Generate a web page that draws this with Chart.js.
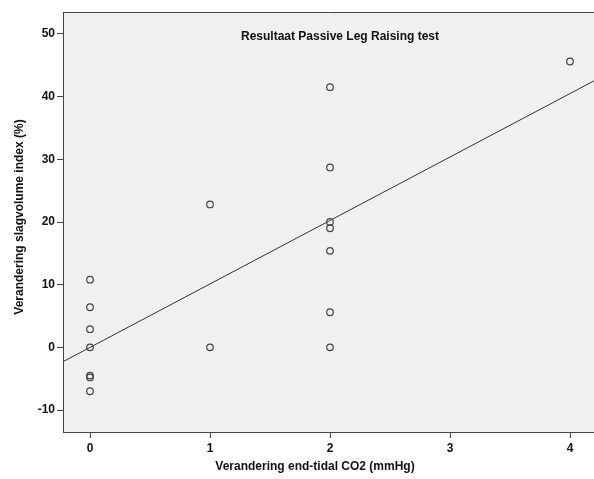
<!DOCTYPE html>
<html>
<head>
<meta charset="utf-8">
<script src="https://cdn.jsdelivr.net/npm/chart.js@4"></script>
<style>
  html, body { margin: 0; padding: 0; background: #fff; }
  #wrap { width: 594px; height: 479px; }
</style>
</head>
<body>
<div id="wrap"><canvas id="grafico" width="594" height="479"></canvas></div>
<script>
// Datos
const cambioCO2 = [0, 0, 0, 0, 0, 0, 0, 1, 1, 2, 2, 2, 2, 2, 2, 2, 4];
const cambioSVI = [10.8, 6.4, 2.9, 0, -4.5, -4.8, -7.0, 22.8, 0, 41.5, 28.7, 20.0, 19.0, 15.4, 5.6, 0, 45.6];
const ticksX = [0, 1, 2, 3, 4];
const ticksY = [-10, 0, 10, 20, 30, 40, 50];
const titulo = 'Resultaat Passive Leg Raising test';
const tituloX = 'Verandering end-tidal CO2 (mmHg)';
const tituloY = 'Verandering slagvolume index (%)';

const xMin = -0.225, xMax = 4.2;
const yMin = -13.5, yMax = 53.5;

// Recta de regresión (mínimos cuadrados)
const n = cambioCO2.length;
const mx = cambioCO2.reduce((a, b) => a + b, 0) / n;
const my = cambioSVI.reduce((a, b) => a + b, 0) / n;
let sxy = 0, sxx = 0;
cambioCO2.forEach((x, i) => {
    sxy += (x - mx) * (cambioSVI[i] - my);
    sxx += (x - mx) * (x - mx);
});
const pendiente = sxy / sxx;
const intercepto = my - pendiente * mx;

const puntos = cambioCO2.map((x, i) => ({ x: x, y: cambioSVI[i] }));
const recta = [xMin, xMax].map(x => ({ x: x, y: intercepto + pendiente * x }));

const fuente = { family: '"Liberation Sans", Arial, sans-serif', size: 12, weight: 'bold' };
const gris = '#444444';

// Fondo del área, borde superior y textos
const fondoPlugin = {
    id: 'fondo',
    beforeDraw(chart) {
        const { ctx, chartArea: a } = chart;
        ctx.save();
        ctx.fillStyle = '#f0f0f0';
        ctx.fillRect(a.left, a.top, a.right - a.left, a.bottom - a.top);
        ctx.strokeStyle = gris;
        ctx.lineWidth = 1;
        ctx.beginPath();
        ctx.moveTo(a.left, a.top + 0.5);
        ctx.lineTo(a.right, a.top + 0.5);
        ctx.stroke();
        ctx.restore();
    },
    afterDraw(chart) {
        const { ctx, chartArea: a } = chart;
        ctx.save();
        ctx.fillStyle = '#111';
        ctx.font = 'bold 12px "Liberation Sans", Arial, sans-serif';
        ctx.textAlign = 'center';
        ctx.textBaseline = 'middle';
        ctx.fillText(titulo, 340, a.top + 25);
        ctx.fillText(tituloX, 315, 467);
        ctx.translate(20, 217);
        ctx.rotate(-Math.PI / 2);
        ctx.fillText(tituloY, 0, 0);
        ctx.restore();
    }
};

new Chart(document.getElementById('grafico').getContext('2d'), {
    type: 'scatter',
    data: {
        datasets: [
            {
                data: puntos,
                pointStyle: 'circle',
                pointRadius: 3.3,
                pointBorderWidth: 1.2,
                pointBorderColor: '#444',
                pointBackgroundColor: 'rgba(0,0,0,0)',
                showLine: false
            },
            {
                type: 'line',
                data: recta,
                borderColor: '#333',
                borderWidth: 1,
                pointRadius: 0,
                fill: false
            }
        ]
    },
    plugins: [fondoPlugin],
    options: {
        responsive: false,
        animation: false,
        layout: { autoPadding: false, padding: { top: 12, right: 0, left: 0, bottom: 0 } },
        plugins: {
            legend: { display: false },
            tooltip: { enabled: false }
        },
        scales: {
            x: {
                type: 'linear',
                min: xMin,
                max: xMax,
                afterBuildTicks: s => { s.ticks = ticksX.map(v => ({ value: v })); },
                afterFit: s => { s.height = 47; s.paddingLeft = 0; s.paddingRight = 0; },
                grid: { drawOnChartArea: false, drawTicks: true, tickLength: 6, color: gris },
                border: { display: true, color: gris, width: 1 },
                ticks: { font: fuente, color: '#111', padding: 3, maxRotation: 0 }
            },
            y: {
                type: 'linear',
                min: yMin,
                max: yMax,
                afterBuildTicks: s => { s.ticks = ticksY.map(v => ({ value: v })); },
                afterFit: s => { s.width = 63; s.paddingTop = 0; s.paddingBottom = 0; },
                grid: { drawOnChartArea: false, drawTicks: true, tickLength: 6, color: gris },
                border: { display: true, color: gris, width: 1 },
                ticks: { font: fuente, color: '#111', padding: 2 }
            }
        }
    }
});
</script>
</body>
</html>
